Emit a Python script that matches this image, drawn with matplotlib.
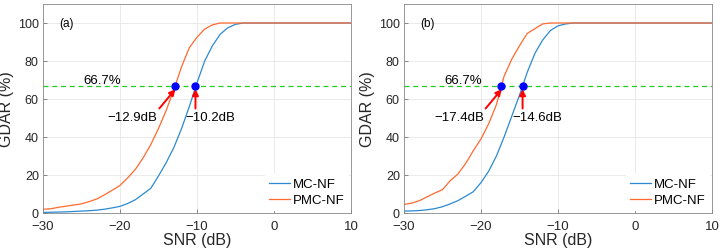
import numpy as np
import matplotlib
matplotlib.use("Agg")
import matplotlib.pyplot as plt

plt.rcParams['font.family'] = ['Liberation Sans', 'DejaVu Sans']

# data
snr = [-30, -29, -28, -27, -26, -25, -24, -23, -22, -21, -20, -19, -18, -17,
       -16, -15, -14, -13, -12, -11, -10, -9, -8, -7, -6, -5, -4, -3, -2, -1,
       0, 1, 2, 3, 4, 5, 6, 7, 8, 9, 10]

mc_a = [0.3, 0.4, 0.5, 0.6, 0.8, 1.0, 1.2, 1.5, 2.0, 2.7, 3.5, 5.0, 7.0, 10.0,
        13.0, 19.5, 26.5, 34.5, 44.5, 56.0, 68.5, 80.0, 88.0, 94.0, 97.5, 99.3,
        100, 100, 100, 100, 100, 100, 100, 100, 100, 100, 100, 100, 100, 100, 100]
pmc_a = [2.0, 2.2, 3.0, 3.6, 4.2, 4.8, 6.0, 7.4, 9.6, 12.0, 14.5, 18.5, 23.0, 29.0,
         36.0, 44.5, 54.0, 65.0, 77.0, 87.0, 92.5, 96.8, 99.0, 100, 100,
         100, 100, 100, 100, 100, 100, 100, 100, 100, 100, 100, 100, 100, 100, 100, 100]

mc_b = [1.0, 1.1, 1.3, 1.7, 2.3, 3.3, 4.8, 6.5, 8.8, 11.2, 16.0, 22.0, 30.0, 40.0,
        51.0, 62.0, 74.0, 84.0, 91.0, 96.0, 98.5, 99.5, 100, 100, 100, 100,
        100, 100, 100, 100, 100, 100, 100, 100, 100, 100, 100, 100, 100, 100, 100]
pmc_b = [4.5, 5.2, 6.5, 8.5, 10.5, 12.3, 17.0, 20.5, 26.0, 32.8, 39.0, 47.0, 57.0, 72.0,
         81.0, 88.0, 94.5, 97.0, 99.5, 100, 100, 100, 100, 100, 100, 100,
         100, 100, 100, 100, 100, 100, 100, 100, 100, 100, 100, 100, 100, 100, 100]

panels = ['(a)', '(b)']
mc_all = [mc_a, mc_b]
pmc_all = [pmc_a, pmc_b]
cross_mc = [-10.2, -14.6]
cross_pmc = [-12.9, -17.4]
thresh = 66.7

blue = '#2b8ad2'
orange = '#ff6a2e'

fig = plt.figure(figsize=(7.22, 2.53), dpi=100)
lefts = [43 / 722, 404 / 722]
w = 308 / 722
b = (253 - 214) / 253
h = 209 / 253

for i in range(2):
    ax = fig.add_axes([lefts[i], b, w, h])
    ax.plot(snr, mc_all[i], color=blue, lw=0.9, label='MC-NF')
    ax.plot(snr, pmc_all[i], color=orange, lw=0.9, label='PMC-NF')
    ax.axhline(thresh, color='#22cc22', lw=0.9, ls=(0, (4, 3)))
    ax.plot([cross_pmc[i], cross_mc[i]], [thresh, thresh], 'o', color='#0000ff',
            ms=5, zorder=5)

    # arrows
    ax.annotate('', xy=(cross_pmc[i] + 0.1, thresh - 1.5),
                xytext=(cross_pmc[i] - 2.0, 55),
                arrowprops=dict(arrowstyle='-|>', color='red', lw=1.4,
                                mutation_scale=9, shrinkA=0, shrinkB=0))
    ax.annotate('', xy=(cross_mc[i], thresh - 1.5),
                xytext=(cross_mc[i], 55),
                arrowprops=dict(arrowstyle='-|>', color='red', lw=1.4,
                                mutation_scale=9, shrinkA=0, shrinkB=0))
    ax.text(cross_pmc[i] - 2.2, 50.5, '\u2212%.1fdB' % abs(cross_pmc[i]),
            ha='right', va='center', fontsize=9.5)
    ax.text(cross_mc[i] - 1.3, 50.5, '\u2212%.1fdB' % abs(cross_mc[i]),
            ha='left', va='center', fontsize=9.5)
    ax.text(-24.8, 67.0, '66.7%', fontsize=9.5, ha='left', va='bottom')
    ax.text(-27.9, 100, panels[i], fontsize=8.5, ha='left', va='center')

    ax.set_xlim(-30, 10)
    ax.set_ylim(0, 110)
    ax.set_xticks([-30, -20, -10, 0, 10])
    ax.set_xticklabels(['\u221230', '\u221220', '\u221210', '0', '10'])
    ax.set_yticks([0, 20, 40, 60, 80, 100])
    ax.grid(True, color='#e6e6e6', lw=0.6)
    ax.set_axisbelow(True)
    ax.tick_params(direction='in', length=3, width=0.6, colors='#777777',
                   labelcolor='#262626', labelsize=9, pad=3)
    ax.tick_params(axis='x', labelsize=9.5, pad=5)
    for s in ax.spines.values():
        s.set_color('#888888')
        s.set_linewidth(0.6)
    ax.set_xlabel('SNR (dB)', fontsize=11.5, color='#262626', labelpad=0)
    ax.set_ylabel('GDAR (%)', fontsize=11.5, color='#262626', labelpad=3)
    leg = ax.legend(loc='lower right', fontsize=9.5, frameon=True, fancybox=False,
                    handlelength=1.6, handletextpad=0.2, borderaxespad=0.2,
                    labelspacing=0.3, borderpad=0.3)
    leg.get_frame().set_edgecolor('white')
    leg.get_frame().set_alpha(1)

fig.savefig('out.png', dpi=100)
